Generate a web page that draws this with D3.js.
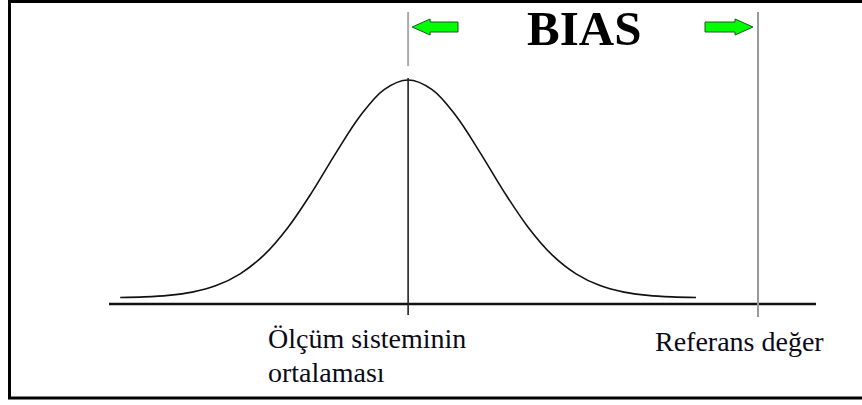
<!DOCTYPE html>
<html>
<head>
<meta charset="utf-8">
<script src="https://cdn.jsdelivr.net/npm/d3@7"></script>
<style>
  html, body { margin: 0; padding: 0; background: #fff; }
  svg { display: block; }
  .serif { font-family: "Liberation Serif", "Times New Roman", Times, "DejaVu Serif", serif; }
</style>
</head>
<body>
<svg id="chart" width="862" height="405"></svg>
<script>
// Curve samples (in standard-deviation units, relative height)
const curveX = [-3.6,-3.3,-3.0,-2.7,-2.4,-2.1,-1.8,-1.5,-1.2,-0.9,-0.6,-0.3,0,0.3,0.6,0.9,1.2,1.5,1.8,2.1,2.4,2.7,3.0,3.3,3.6];
const curveY = [0.002,0.005,0.012,0.027,0.057,0.111,0.198,0.325,0.487,0.667,0.835,0.956,1,0.956,0.835,0.667,0.487,0.325,0.198,0.111,0.057,0.027,0.012,0.005,0.002];
const meanValue = 0;
const referenceValue = 4.375;
const axisDomain = [-3.74, 5.1];
const labels = ["Ölçüm sisteminin", "ortalaması", "Referans değer"];
const titleText = "BIAS";

const svg = d3.select("#chart");

// Border (right side runs off the picture)
svg.append("rect")
  .attr("x", 9.5).attr("y", 1.5)
  .attr("width", 900).attr("height", 396.5)
  .attr("fill", "none").attr("stroke", "#000").attr("stroke-width", 3);

const x = d3.scaleLinear().domain(axisDomain).range([109, 816]);
const y = d3.scaleLinear().domain([0, 1]).range([298, 80]);

// Baseline axis
svg.append("line")
  .attr("x1", x(axisDomain[0])).attr("x2", x(axisDomain[1]))
  .attr("y1", 304).attr("y2", 304)
  .attr("stroke", "#111").attr("stroke-width", 2.5);

// Bell curve
const pts = curveX.map((v, i) => [v, curveY[i]]);
svg.append("path")
  .datum(pts)
  .attr("d", d3.line().x(d => x(d[0])).y(d => y(d[1])).curve(d3.curveCatmullRom))
  .attr("fill", "none").attr("stroke", "#111").attr("stroke-width", 1.6);

// Mean line
svg.append("line")
  .attr("x1", x(meanValue)).attr("x2", x(meanValue))
  .attr("y1", y(1) - 2).attr("y2", 315)
  .attr("stroke", "#222").attr("stroke-width", 1.6);
// Bias bracket at mean (upper part)
svg.append("line")
  .attr("x1", x(meanValue)).attr("x2", x(meanValue))
  .attr("y1", 12).attr("y2", 66)
  .attr("stroke", "#aaa").attr("stroke-width", 2);
// Reference line
svg.append("line")
  .attr("x1", x(referenceValue)).attr("x2", x(referenceValue))
  .attr("y1", 12).attr("y2", 317)
  .attr("stroke", "#999").attr("stroke-width", 2);

// Arrows
function arrow(tipX, tailX, cy) {
  const dir = tailX > tipX ? 1 : -1;
  const headLen = 18, headH = 8, shaftH = 5;
  const hx = tipX + dir * headLen;
  return [
    [tipX, cy], [hx, cy - headH], [hx, cy - shaftH], [tailX, cy - shaftH],
    [tailX, cy + shaftH], [hx, cy + shaftH], [hx, cy + headH]
  ];
}
const arrows = [arrow(x(meanValue) + 4, 458, 27), arrow(x(referenceValue) - 5, 705, 27)];
svg.selectAll("polygon.arrow").data(arrows).enter().append("polygon")
  .attr("class", "arrow")
  .attr("points", d => d.map(p => p.join(",")).join(" "))
  .attr("fill", "#00ff00").attr("stroke", "#1a5a1a").attr("stroke-width", 1);

// Title
svg.append("text")
  .attr("class", "serif")
  .attr("x", 527).attr("y", 45)
  .style("font-weight", "bold").style("font-size", "49px")
  .attr("fill", "#000")
  .text(titleText);

// Labels
const labelPos = [[268, 348], [268, 382], [655, 351]];
svg.selectAll("text.label").data(labels).enter().append("text")
  .attr("class", "label serif")
  .attr("x", (d, i) => labelPos[i][0]).attr("y", (d, i) => labelPos[i][1])
  .style("font-size", "28px").style("font-weight", "normal")
  .attr("fill", "#0a0a1a")
  .text(d => d);
</script>
</body>
</html>
